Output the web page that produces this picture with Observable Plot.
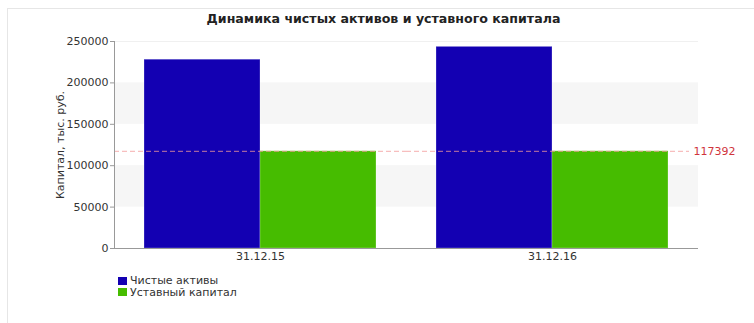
<!DOCTYPE html>
<html>
<head>
<meta charset="utf-8">
<script src="https://cdn.jsdelivr.net/npm/d3@7"></script>
<script src="https://cdn.jsdelivr.net/npm/@observablehq/plot@0.6"></script>
<style>
  html, body { margin: 0; padding: 0; background: #fff; }
  #wrap { position: relative; width: 754px; height: 323px; overflow: hidden; font-family: "DejaVu Sans", sans-serif; }
  #border { position: absolute; left: 7px; top: 8px; width: 800px; height: 400px; border-top: 1px solid #e6e6e6; border-left: 1px solid #e6e6e6; }
  #title { position: absolute; left: 0; top: 11px; width: 767px; text-align: center; font-size: 12.6px; font-weight: bold; color: #222; }
  #legend { position: absolute; left: 118px; top: 275px; font-size: 11px; color: #333; line-height: 11.5px; }
  #legend .row { display: flex; align-items: center; }
  #legend .sw { width: 9px; height: 8px; margin-right: 3px; }
  #chart { position: absolute; left: 0; top: 0; }
</style>
</head>
<body>
<div id="wrap">
  <div id="border"></div>
  <div id="chart"></div>
  <div id="title"></div>
  <div id="legend"></div>
</div>
<script>
const titleText = "Динамика чистых активов и уставного капитала";
const yLabel = "Капитал, тыс. руб.";
const dates = ["31.12.15", "31.12.16"];
const series = ["Чистые активы", "Уставный капитал"];
const netAssets = [228000, 243500];
const charterCapital = [117392, 117392];
const refValue = 117392;
const yTicks = [0, 50000, 100000, 150000, 200000, 250000];
const bandsLow = [50000, 150000];
const bandsHigh = [100000, 200000];
const colors = ["#1300b2", "#46bc00"];

const rows = [];
dates.forEach((d, i) => {
  rows.push({date: d, series: series[0], value: netAssets[i]});
  rows.push({date: d, series: series[1], value: charterCapital[i]});
});
const bands = bandsLow.map((lo, i) => ({y1: lo, y2: bandsHigh[i]}));

document.getElementById("title").textContent = titleText;
const legend = document.getElementById("legend");
series.forEach((s, i) => {
  const row = document.createElement("div");
  row.className = "row";
  const sw = document.createElement("div");
  sw.className = "sw";
  sw.style.background = colors[i];
  const t = document.createElement("span");
  t.textContent = s;
  row.appendChild(sw); row.appendChild(t);
  legend.appendChild(row);
});

const chart = Plot.plot({
  width: 754,
  height: 323,
  marginLeft: 113,
  marginRight: 56,
  marginTop: 41,
  marginBottom: 75,
  style: {fontFamily: "DejaVu Sans, sans-serif", fontSize: "11px", color: "#333", background: "transparent"},
  fx: {domain: dates, padding: 0, label: null},
  x: {domain: series, paddingInner: 0, paddingOuter: 0.25, axis: null},
  y: {domain: [0, 250000], label: null},
  color: {domain: series, range: colors},
  marks: [
    Plot.rect(bands, {y1: "y1", y2: "y2", fill: "#f6f6f6"}),
    Plot.ruleY([250000], {stroke: "#f0f0f0"}),
    Plot.barY(rows, {fx: "date", x: "series", y: "value", fill: "series", stroke: "#ffffff", strokeOpacity: 0.25, strokeWidth: 1}),
    Plot.ruleY([refValue], {stroke: "#f29a9a", strokeOpacity: 0.8, strokeDasharray: "5,3", strokeWidth: 1, facetAnchor: "left"}),
    Plot.ruleY([refValue], {stroke: "#f29a9a", strokeOpacity: 0.8, strokeDasharray: "5,3", strokeWidth: 1, facetAnchor: "right", insetRight: 9}),
    Plot.text([refValue], {y: d => d, text: d => String(d), frameAnchor: "right", textAnchor: "start", dx: -5, fill: "#d0343c", fontSize: 11, facetAnchor: "right"}),
    Plot.ruleY([0], {stroke: "#999"}),
    Plot.frame({anchor: "left", stroke: "#999", facetAnchor: "left"}),
    Plot.axisY({ticks: yTicks, tickFormat: d3.format("d"), tickSize: 4, tickPadding: 2, stroke: "#999", fill: "#333", label: yLabel, labelAnchor: "center", labelOffset: 58, labelArrow: "none"}),
    Plot.axisFx({anchor: "bottom", tickSize: 0, tickPadding: 4, fill: "#333", label: null})
  ]
});
document.getElementById("chart").appendChild(chart);
</script>
</body>
</html>
